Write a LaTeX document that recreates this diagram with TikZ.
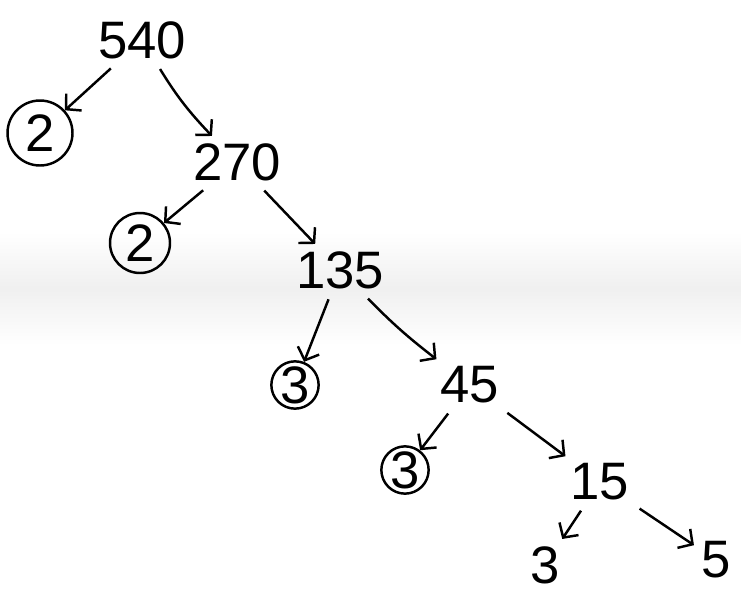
\documentclass[tikz,border=0pt]{standalone}
\usepackage{fontspec}
\setmainfont{Liberation Sans}
\usetikzlibrary{arrows.meta}
\begin{document}
\begin{tikzpicture}[x=0.02cm,y=-0.02cm,
  num/.style={font=\fontsize{30}{30}\selectfont, inner sep=4pt},
  cnum/.style={circle, draw, line width=1.4pt, font=\fontsize{30}{30}\selectfont, inner sep=0pt, minimum size=#1},
  arr/.style={line width=1.4pt, -{Straight Barb[length=6pt,width=13pt,line width=1.4pt]}, shorten <=2pt, shorten >=0pt}]
\useasboundingbox (0,0) rectangle (741,592);
\shade[top color=white, bottom color=white, middle color=gray!12] (0,232) rectangle (741,345);
\node[num] (n540) at (142,40) {540};
\node[cnum=1.3cm] (c2a) at (40,133) {2};
\node[num] (n270) at (237,162) {270};
\node[cnum=1.2cm] (c2b) at (140,243) {2};
\node[num] (n135) at (340,270) {135};
\node[cnum=0.9cm] (c3a) at (295,385) {3};
\node[num] (n45) at (470,385) {45};
\node[cnum=0.92cm] (c3b) at (405,470) {3};
\node[num] (n15) at (600,482) {15};
\node[num] (t3) at (545,565) {3};
\node[num] (t5) at (716,560) {5};
\draw[arr] (n540) -- (c2a);
\draw[arr] (n540) to[bend right=6] (n270);
\draw[arr] (n270) -- (c2b);
\draw[arr] (n270) -- (n135);
\draw[arr] (n135) -- (c3a);
\draw[arr] (n135) to[bend right=4] (n45);
\draw[arr] (n45) -- (c3b);
\draw[arr] (n45) -- (n15);
\draw[arr] (n15) -- (t3);
\draw[arr] (n15) -- (t5);
\end{tikzpicture}
\end{document}
